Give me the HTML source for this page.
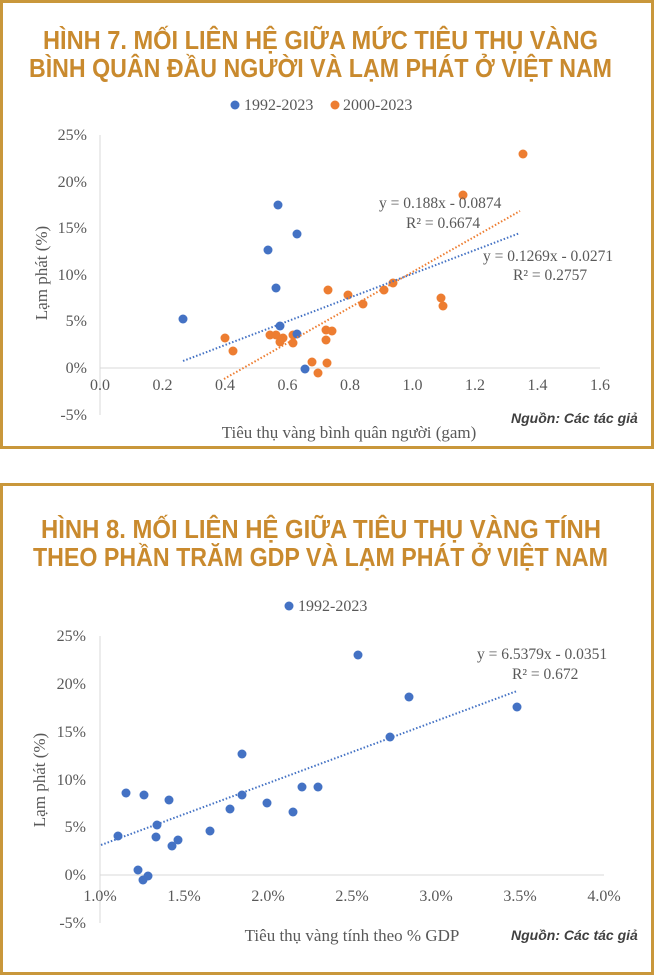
<!DOCTYPE html>
<html><head><meta charset="utf-8"><style>
html,body{margin:0;padding:0;background:#fff}
svg{display:block}
text{font-family:"Liberation Serif",serif;fill:#595959}
.t{font-family:"Liberation Sans Narrow","Liberation Sans",sans-serif;font-weight:bold;fill:#c98a2e;font-size:26px}
.tk{font-size:16px;fill:#6a6a6a}
.src{font-family:"Liberation Sans Narrow","Liberation Sans",sans-serif;font-style:italic;font-weight:bold;fill:#404040;font-size:14px}
</style></head><body>
<svg width="654" height="976" viewBox="0 0 654 976" xmlns="http://www.w3.org/2000/svg">
<rect x="1.5" y="1.5" width="651" height="446" fill="none" stroke="#c9973b" stroke-width="3"/>
<rect x="1.5" y="484.5" width="651" height="489" fill="none" stroke="#c9973b" stroke-width="3"/>

<!-- Chart 1 -->
<text class="t" x="43" y="49" textLength="555" lengthAdjust="spacingAndGlyphs">HÌNH 7. MỐI LIÊN HỆ GIỮA MỨC TIÊU THỤ VÀNG</text>
<text class="t" x="29" y="77" textLength="583" lengthAdjust="spacingAndGlyphs">BÌNH QUÂN ĐẦU NGƯỜI VÀ LẠM PHÁT Ở VIỆT NAM</text>
<circle cx="235" cy="105" r="4.5" fill="#4472c4"/>
<text x="244" y="110" font-size="16">1992-2023</text>
<circle cx="335" cy="105" r="4.5" fill="#ed7d31"/>
<text x="343" y="110" font-size="16">2000-2023</text>
<line x1="100" y1="135" x2="100" y2="415" stroke="#d9d9d9"/>
<line x1="100" y1="368" x2="600" y2="368" stroke="#d9d9d9"/>
<g class="tk" text-anchor="end">
<text x="87" y="140">25%</text><text x="87" y="187">20%</text><text x="87" y="233">15%</text>
<text x="87" y="280">10%</text><text x="87" y="326">5%</text><text x="87" y="373">0%</text><text x="87" y="420">-5%</text>
</g>
<g class="tk" text-anchor="middle">
<text x="100" y="390">0.0</text><text x="162.5" y="390">0.2</text><text x="225" y="390">0.4</text><text x="287.5" y="390">0.6</text>
<text x="350" y="390">0.8</text><text x="412.5" y="390">1.0</text><text x="475" y="390">1.2</text><text x="537.5" y="390">1.4</text><text x="600" y="390">1.6</text>
</g>
<text transform="translate(47,273) rotate(-90)" text-anchor="middle" font-size="17">Lạm phát (%)</text>
<text x="349" y="438" text-anchor="middle" font-size="17">Tiêu thụ vàng bình quân người (gam)</text>
<text class="src" x="511" y="423">Nguồn: Các tác giả</text>
<g fill="#ed7d31">
<circle cx="225" cy="338" r="4.5"/><circle cx="233" cy="351" r="4.5"/><circle cx="270" cy="335" r="4.5"/><circle cx="276" cy="335" r="4.5"/>
<circle cx="283" cy="338" r="4.5"/><circle cx="280" cy="342" r="4.5"/><circle cx="293" cy="343" r="4.5"/><circle cx="293" cy="335" r="4.5"/>
<circle cx="312" cy="362" r="4.5"/><circle cx="318" cy="373" r="4.5"/><circle cx="326" cy="330" r="4.5"/><circle cx="326" cy="340" r="4.5"/>
<circle cx="332" cy="331" r="4.5"/><circle cx="327" cy="363" r="4.5"/><circle cx="328" cy="290" r="4.5"/><circle cx="348" cy="295" r="4.5"/>
<circle cx="363" cy="304" r="4.5"/><circle cx="384" cy="290" r="4.5"/><circle cx="393" cy="283" r="4.5"/><circle cx="441" cy="298" r="4.5"/>
<circle cx="443" cy="306" r="4.5"/><circle cx="463" cy="195" r="4.5"/><circle cx="523" cy="154" r="4.5"/>
</g>
<g fill="#4472c4">
<circle cx="183" cy="319" r="4.5"/><circle cx="278" cy="205" r="4.5"/><circle cx="297" cy="234" r="4.5"/><circle cx="268" cy="250" r="4.5"/>
<circle cx="276" cy="288" r="4.5"/><circle cx="280" cy="326" r="4.5"/><circle cx="297" cy="334" r="4.5"/><circle cx="305" cy="369" r="4.5"/>
</g>
<line x1="183" y1="361" x2="520" y2="233" stroke="#4472c4" stroke-width="2" stroke-dasharray="1.5 2"/>
<line x1="224" y1="379" x2="520" y2="211" stroke="#ed7d31" stroke-width="2" stroke-dasharray="1.5 2"/>
<text x="379" y="208" font-size="15.5">y = 0.188x - 0.0874</text>
<text x="406" y="228" font-size="15.5">R² = 0.6674</text>
<text x="483" y="261" font-size="15.5">y = 0.1269x - 0.0271</text>
<text x="513" y="280" font-size="15.5">R² = 0.2757</text>

<!-- Chart 2 -->
<text class="t" x="41" y="538" textLength="560" lengthAdjust="spacingAndGlyphs">HÌNH 8. MỐI LIÊN HỆ GIỮA TIÊU THỤ VÀNG TÍNH</text>
<text class="t" x="33" y="566" textLength="575" lengthAdjust="spacingAndGlyphs">THEO PHẦN TRĂM GDP VÀ LẠM PHÁT Ở VIỆT NAM</text>
<circle cx="289" cy="606" r="4.5" fill="#4472c4"/>
<text x="298" y="611" font-size="16">1992-2023</text>
<line x1="100" y1="636" x2="100" y2="923" stroke="#d9d9d9"/>
<line x1="100" y1="875" x2="604" y2="875" stroke="#d9d9d9"/>
<g class="tk" text-anchor="end">
<text x="86" y="641">25%</text><text x="86" y="689">20%</text><text x="86" y="737">15%</text>
<text x="86" y="785">10%</text><text x="86" y="832">5%</text><text x="86" y="880">0%</text><text x="86" y="928">-5%</text>
</g>
<g class="tk" text-anchor="middle">
<text x="100" y="901">1.0%</text><text x="184" y="901">1.5%</text><text x="268" y="901">2.0%</text><text x="352" y="901">2.5%</text>
<text x="436" y="901">3.0%</text><text x="520" y="901">3.5%</text><text x="604" y="901">4.0%</text>
</g>
<text transform="translate(45,780) rotate(-90)" text-anchor="middle" font-size="17">Lạm phát (%)</text>
<text x="352" y="941" text-anchor="middle" font-size="17">Tiêu thụ vàng tính theo % GDP</text>
<text class="src" x="511" y="940">Nguồn: Các tác giả</text>
<g fill="#4472c4">
<circle cx="118" cy="836" r="4.5"/><circle cx="126" cy="793" r="4.5"/><circle cx="144" cy="795" r="4.5"/><circle cx="169" cy="800" r="4.5"/>
<circle cx="157" cy="825" r="4.5"/><circle cx="156" cy="837" r="4.5"/><circle cx="172" cy="846" r="4.5"/><circle cx="178" cy="840" r="4.5"/>
<circle cx="138" cy="870" r="4.5"/><circle cx="143" cy="880" r="4.5"/><circle cx="148" cy="876" r="4.5"/><circle cx="210" cy="831" r="4.5"/>
<circle cx="230" cy="809" r="4.5"/><circle cx="242" cy="754" r="4.5"/><circle cx="242" cy="795" r="4.5"/><circle cx="267" cy="803" r="4.5"/>
<circle cx="293" cy="812" r="4.5"/><circle cx="302" cy="787" r="4.5"/><circle cx="318" cy="787" r="4.5"/><circle cx="358" cy="655" r="4.5"/>
<circle cx="390" cy="737" r="4.5"/><circle cx="409" cy="697" r="4.5"/><circle cx="517" cy="707" r="4.5"/>
</g>
<line x1="101" y1="845" x2="517" y2="691" stroke="#4472c4" stroke-width="2" stroke-dasharray="1.5 2"/>
<text x="477" y="659" font-size="15.5">y = 6.5379x - 0.0351</text>
<text x="512" y="679" font-size="15.5">R² = 0.672</text>
</svg>
</body></html>
